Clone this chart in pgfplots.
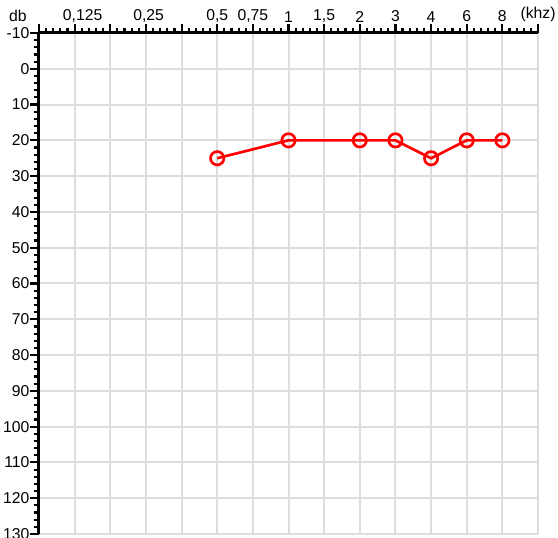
\documentclass[border=0pt]{standalone}
\usepackage{fontspec}
\setmainfont{Liberation Sans}
\usepackage{pgfplots}
\pgfplotsset{compat=1.18}
\definecolor{gridgray}{HTML}{DDDDDD}
\begin{document}
\begin{tikzpicture}
\begin{axis}[
  name=ax,
  scale only axis,
  width=374.25pt, height=375.75pt,
  xmin=0, xmax=14, ymin=-130, ymax=10,
  axis x line=top, axis y line=left,
  axis line style={-, line width=2.25pt, black},
  xtick={0,1,...,14},
  xticklabels={,{\hspace*{12pt}0,125},,{\hspace*{4pt}0,25},,{0,5},{0,75},1,{1,5},2,3,4,6,8,(khz)},
  ytick={-130,-120,...,10},
  yticklabels={130,120,110,100,90,80,70,60,50,40,30,20,10,0,-10},
  minor x tick num=4, minor y tick num=4,
  tick align=outside,
  major tick length=6.5pt, minor tick length=4pt,
  tick style={black, line width=1.6pt},
  grid=major,
  major grid style={gridgray, line width=1.5pt},
  ticklabel style={font=\fontsize{11.8}{14}\selectfont},
  xticklabel style={inner sep=1.5pt},
  yticklabel style={inner sep=0.5pt},
  clip=false,
]
\addplot[red, line width=2pt, mark=o, mark size=5pt, mark options={fill=white, line width=2pt}]
  coordinates {(5,-25) (7,-20) (9,-20) (10,-20) (11,-25) (12,-20) (13,-20)};
\end{axis}
\node[font=\fontsize{11.8}{14}\selectfont] at ([xshift=-15.75pt,yshift=13pt]ax.north west) {db};
\pgfresetboundingbox
\useasboundingbox ([xshift=-29.25pt,yshift=-2.25pt]ax.south west) rectangle ([xshift=15pt,yshift=24.75pt]ax.north east);
\end{tikzpicture}
\end{document}
